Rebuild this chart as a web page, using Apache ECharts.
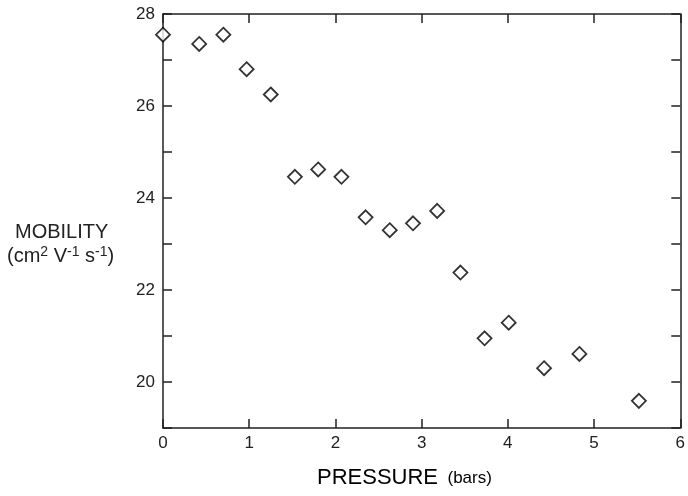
<!DOCTYPE html>
<html>
<head>
<meta charset="utf-8">
<script src="https://cdn.jsdelivr.net/npm/echarts@6/dist/echarts.min.js"></script>
<style>
  html, body { margin: 0; padding: 0; background: #fff; }
  #chart { width: 688px; height: 496px; }
</style>
</head>
<body>
<div id="chart"></div>
<script>
const pressure = [0, 0.42, 0.70, 0.97, 1.25, 1.53, 1.80, 2.07, 2.35, 2.63, 2.90, 3.18, 3.45, 3.73, 4.01, 4.42, 4.83, 5.52]
const mobility = [27.55, 27.35, 27.55, 26.80, 26.25, 24.46, 24.62, 24.46, 23.58, 23.30, 23.45, 23.72, 22.38, 20.95, 21.29, 20.30, 20.61, 19.59]

const ink = '#222'
const font = 'Liberation Sans, Arial, sans-serif'

const chart = echarts.init(document.getElementById('chart'), null, {renderer: 'canvas'})

// frame is drawn by four axes, ticks point inwards
const line = {show: true, onZero: false, lineStyle: {color: ink, width: 1.5}}
const tick = {show: true, inside: true, length: 9, lineStyle: {color: ink, width: 1.5}}

chart.setOption({
    animation: false,
    grid: {left: 163, right: 4, top: 14, bottom: 68},
    xAxis: [
        {
            type: 'value', min: 0, max: 6, interval: 1,
            axisLine: line, axisTick: tick, splitLine: {show: false},
            axisLabel: {color: ink, fontSize: 17, fontFamily: font, margin: 7}
        },
        {
            type: 'value', position: 'top', min: 0, max: 6, interval: 1,
            axisLine: line, axisTick: tick, splitLine: {show: false},
            axisLabel: {show: false}
        }
    ],
    yAxis: [
        {
            type: 'value', min: 19, max: 28, interval: 1,
            axisLine: line, axisTick: tick, splitLine: {show: false},
            axisLabel: {
                color: ink, fontSize: 17, fontFamily: font, margin: 8,
                formatter: v => (v % 2 === 0 ? String(v) : '')
            }
        },
        {
            type: 'value', position: 'right', min: 19, max: 28, interval: 1,
            axisLine: line, axisTick: tick, splitLine: {show: false},
            axisLabel: {show: false}
        }
    ],
    series: [{
        type: 'scatter',
        data: pressure.map((p, i) => [p, mobility[i]]),
        symbol: 'diamond',
        symbolSize: 14,
        clip: false,
        itemStyle: {color: '#fff', borderColor: '#000', borderWidth: 1.8}
    }],
    graphic: [
        {
            type: 'text', left: 15, top: 222,
            style: {text: 'MOBILITY', fill: ink, fontSize: 20, fontFamily: font}
        },
        {
            type: 'text', left: 7, top: 245,
            style: {
                text: '{a|(cm}{s|2}{a| V}{s|-1}{a| s}{s|-1}{a|)}',
                fill: ink,
                rich: {
                    a: {fontSize: 20, fontFamily: font, color: ink},
                    s: {fontSize: 14, fontFamily: font, color: ink, padding: [0, 0, 9, 0]}
                }
            }
        },
        {
            type: 'text', left: 317, top: 467,
            style: {
                text: '{p|PRESSURE}{b|  (bars)}',
                rich: {
                    p: {fontSize: 22, fontFamily: font, color: ink},
                    b: {fontSize: 17, fontFamily: font, color: ink}
                }
            }
        }
    ]
})
</script>
</body>
</html>
